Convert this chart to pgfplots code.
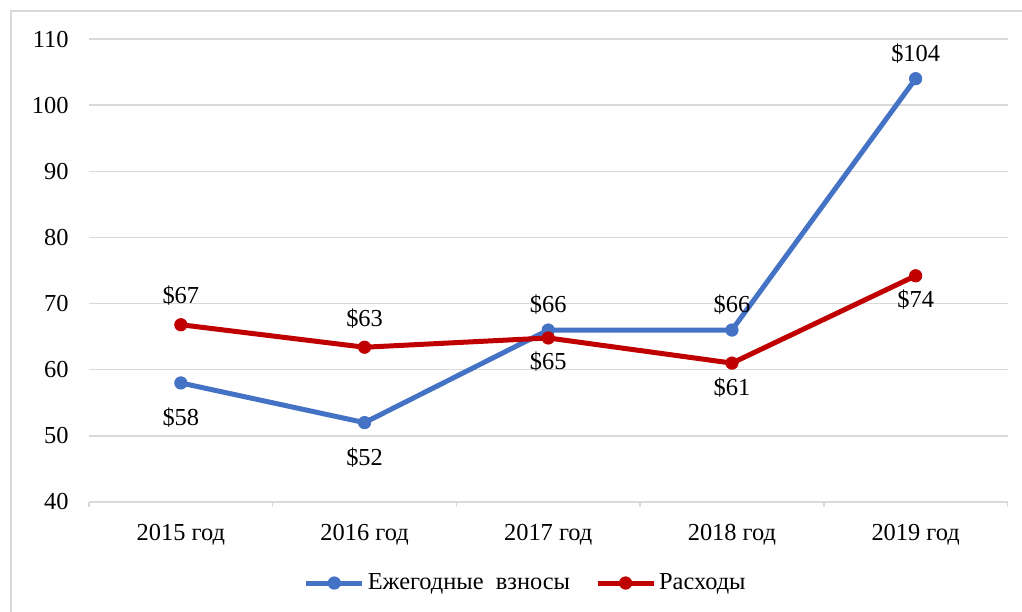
\documentclass[border=0pt]{standalone}
\usepackage{pgfplots}
\pgfplotsset{compat=1.18}
\usepackage{fontspec}
\setmainfont{Liberation Serif}
\definecolor{blueS}{HTML}{4472C4}
\definecolor{redS}{HTML}{C00000}
\definecolor{gridc}{HTML}{D9D9D9}

\begin{document}
\fontsize{12.2pt}{14.5pt}\selectfont
\begin{tikzpicture}
\useasboundingbox (0,0) rectangle (511pt,305.5pt);
\draw[gridc, line width=0.75pt] (5.5pt,-10pt) rectangle (530pt,300pt);
\begin{axis}[
  at={(44.5pt,54.5pt)}, anchor=south west,
  scale only axis, width=459.25pt, height=231.5pt,
  xmin=-0.5, xmax=4.5, ymin=40, ymax=110,
  ytick={40,50,...,110},
  xtick={0,...,4},
  xticklabels={2015 год,2016 год,2017 год,2018 год,2019 год},
  minor xtick={-0.5,0.5,...,4.5},
  axis x line*=bottom, axis y line*=left,
  y axis line style={draw=none},
  x axis line style={gridc, line width=0.75pt},
  major tick length=0pt, minor tick length=2.5pt,
  tick align=outside,
  every tick/.style={gridc, line width=0.75pt},
  ymajorgrids, grid style={gridc, line width=0.75pt},
  /pgf/number format/assume math mode=true,
  yticklabel style={anchor=east, inner sep=0pt, xshift=-10pt},
  xticklabel style={anchor=base, inner sep=0pt, yshift=-19pt},
  clip=false,
  legend columns=2,
  legend style={draw=none, fill=none, at={(0.476,-0.175)}, anchor=center,
    /tikz/every even column/.append style={column sep=11pt},
    nodes={inner sep=1.5pt}},
  legend cell align=left,
  legend image code/.code={\draw[mark repeat=2,mark phase=2,#1] plot coordinates {(0pt,0pt) (14pt,0pt) (28pt,0pt)};},
]
\addplot[blueS, line width=2.5pt, mark=*, mark size=3.1pt, mark options={solid, line width=0.4pt}]
  coordinates {(0,58) (1,52) (2,66) (3,66) (4,104)};
\addlegendentry{Ежегодные\ \ взносы}
\addplot[redS, line width=2.5pt, mark=*, mark size=3.1pt, mark options={solid, line width=0.4pt}]
  coordinates {(0,66.8) (1,63.4) (2,64.8) (3,61.0) (4,74.2)};
\addlegendentry{Расходы}

% data labels
\addplot[forget plot, only marks, mark=none, point meta=explicit symbolic,
  nodes near coords, nodes near coords style={anchor=center, yshift=-17.5pt, text=black}]
  coordinates {(0,58) [\$58] (1,52) [\$52]};
\addplot[forget plot, only marks, mark=none, point meta=explicit symbolic,
  nodes near coords, nodes near coords style={anchor=center, yshift=12.5pt, text=black}]
  coordinates {(2,66) [\$66] (3,66) [\$66] (4,104) [\$104]};
\addplot[forget plot, only marks, mark=none, point meta=explicit symbolic,
  nodes near coords, nodes near coords style={anchor=center, yshift=14.5pt, text=black}]
  coordinates {(0,66.8) [\$67] (1,63.4) [\$63]};
\addplot[forget plot, only marks, mark=none, point meta=explicit symbolic,
  nodes near coords, nodes near coords style={anchor=center, yshift=-12pt, text=black}]
  coordinates {(2,64.8) [\$65] (3,61.0) [\$61] (4,74.2) [\$74]};
\end{axis}
\end{tikzpicture}
\end{document}
